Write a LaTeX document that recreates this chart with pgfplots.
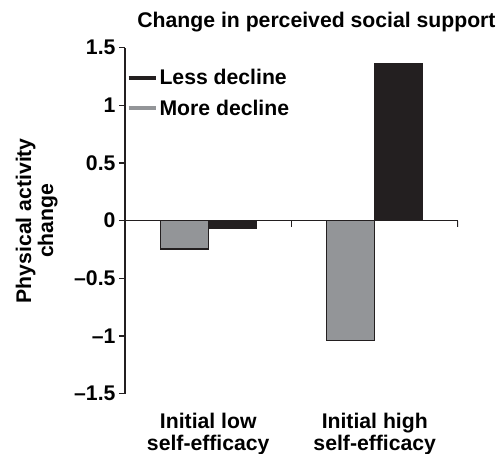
\documentclass[border=0pt]{standalone}
\usepackage{pgfplots}
\pgfplotsset{compat=1.18}
\usepackage{fontspec}
\setmainfont{Liberation Sans}
\definecolor{bargray}{HTML}{939598}
\definecolor{barblack}{HTML}{231F20}
\newcommand{\bfnt}{\fontsize{21.2}{22}\selectfont\bfseries}
\begin{document}
\begin{tikzpicture}[font=\bfnt]
\begin{axis}[name=ax, scale only axis, width=333pt, height=346pt,
  xmin=0, xmax=2, ymin=-1.5, ymax=1.5,
  axis y line*=left, axis x line*=bottom,
  x axis line style={draw=none},
  xtick={0.5,1.5},
  xticklabels={{Initial low\\self-efficacy},{Initial high\\self-efficacy}},
  xticklabel style={align=center, yshift=-10pt, font=\bfnt},
  major x tick style={draw=none},
  ytick={-1.5,-1,-0.5,0,0.5,1,1.5},
  yticklabels={–1.5,–1,–0.5,0,0.5,1,1.5},
  yticklabel style={font=\bfnt},
  tick align=outside, major tick length=6pt,
  y axis line style={line width=1.4pt, color=barblack},
  ytick style={line width=1.4pt, color=barblack},
  ylabel={Physical activity\\change},
  ylabel style={align=center, at={(axis description cs:-0.265,0.5)}, anchor=center, font=\bfnt},
  title={Change in perceived social support},
  title style={at={(axis description cs:0.575,1.056)}, anchor=center, font=\bfnt},
  legend image code/.code={\draw[#1] (0pt,0pt) -- (27pt,0pt);},
  legend style={draw=none, fill=none, at={(axis description cs:-0.005,0.95)}, anchor=north west,
    font=\bfnt, row sep=10pt},
  legend cell align=left,
]
\addlegendimage{line width=4pt, barblack}
\addlegendentry{Less decline}
\addlegendimage{line width=4pt, bargray}
\addlegendentry{More decline}
\addplot[ybar, bar width=0.288, bar shift=0pt, fill=bargray, draw=barblack, line width=1.2pt, forget plot]
  coordinates {(0.356,-0.245) (1.356,-1.04)};
\addplot[ybar, bar width=0.288, bar shift=0pt, fill=barblack, draw=barblack, line width=1.2pt, forget plot]
  coordinates {(0.644,-0.07) (1.644,1.36)};
\draw[line width=1.2pt, barblack] (axis cs:0,0) -- (axis cs:2,0);
\draw[line width=1.2pt, barblack] (axis cs:1,0) -- ([yshift=-6pt]axis cs:1,0);
\draw[line width=1.2pt, barblack] (axis cs:2,0) -- ([yshift=-6pt]axis cs:2,0);
\end{axis}
\pgfresetboundingbox
\path ([xshift=-125pt,yshift=-60pt]ax.south west) rectangle ([xshift=41pt,yshift=47.7pt]ax.north east);
\end{tikzpicture}
\end{document}
